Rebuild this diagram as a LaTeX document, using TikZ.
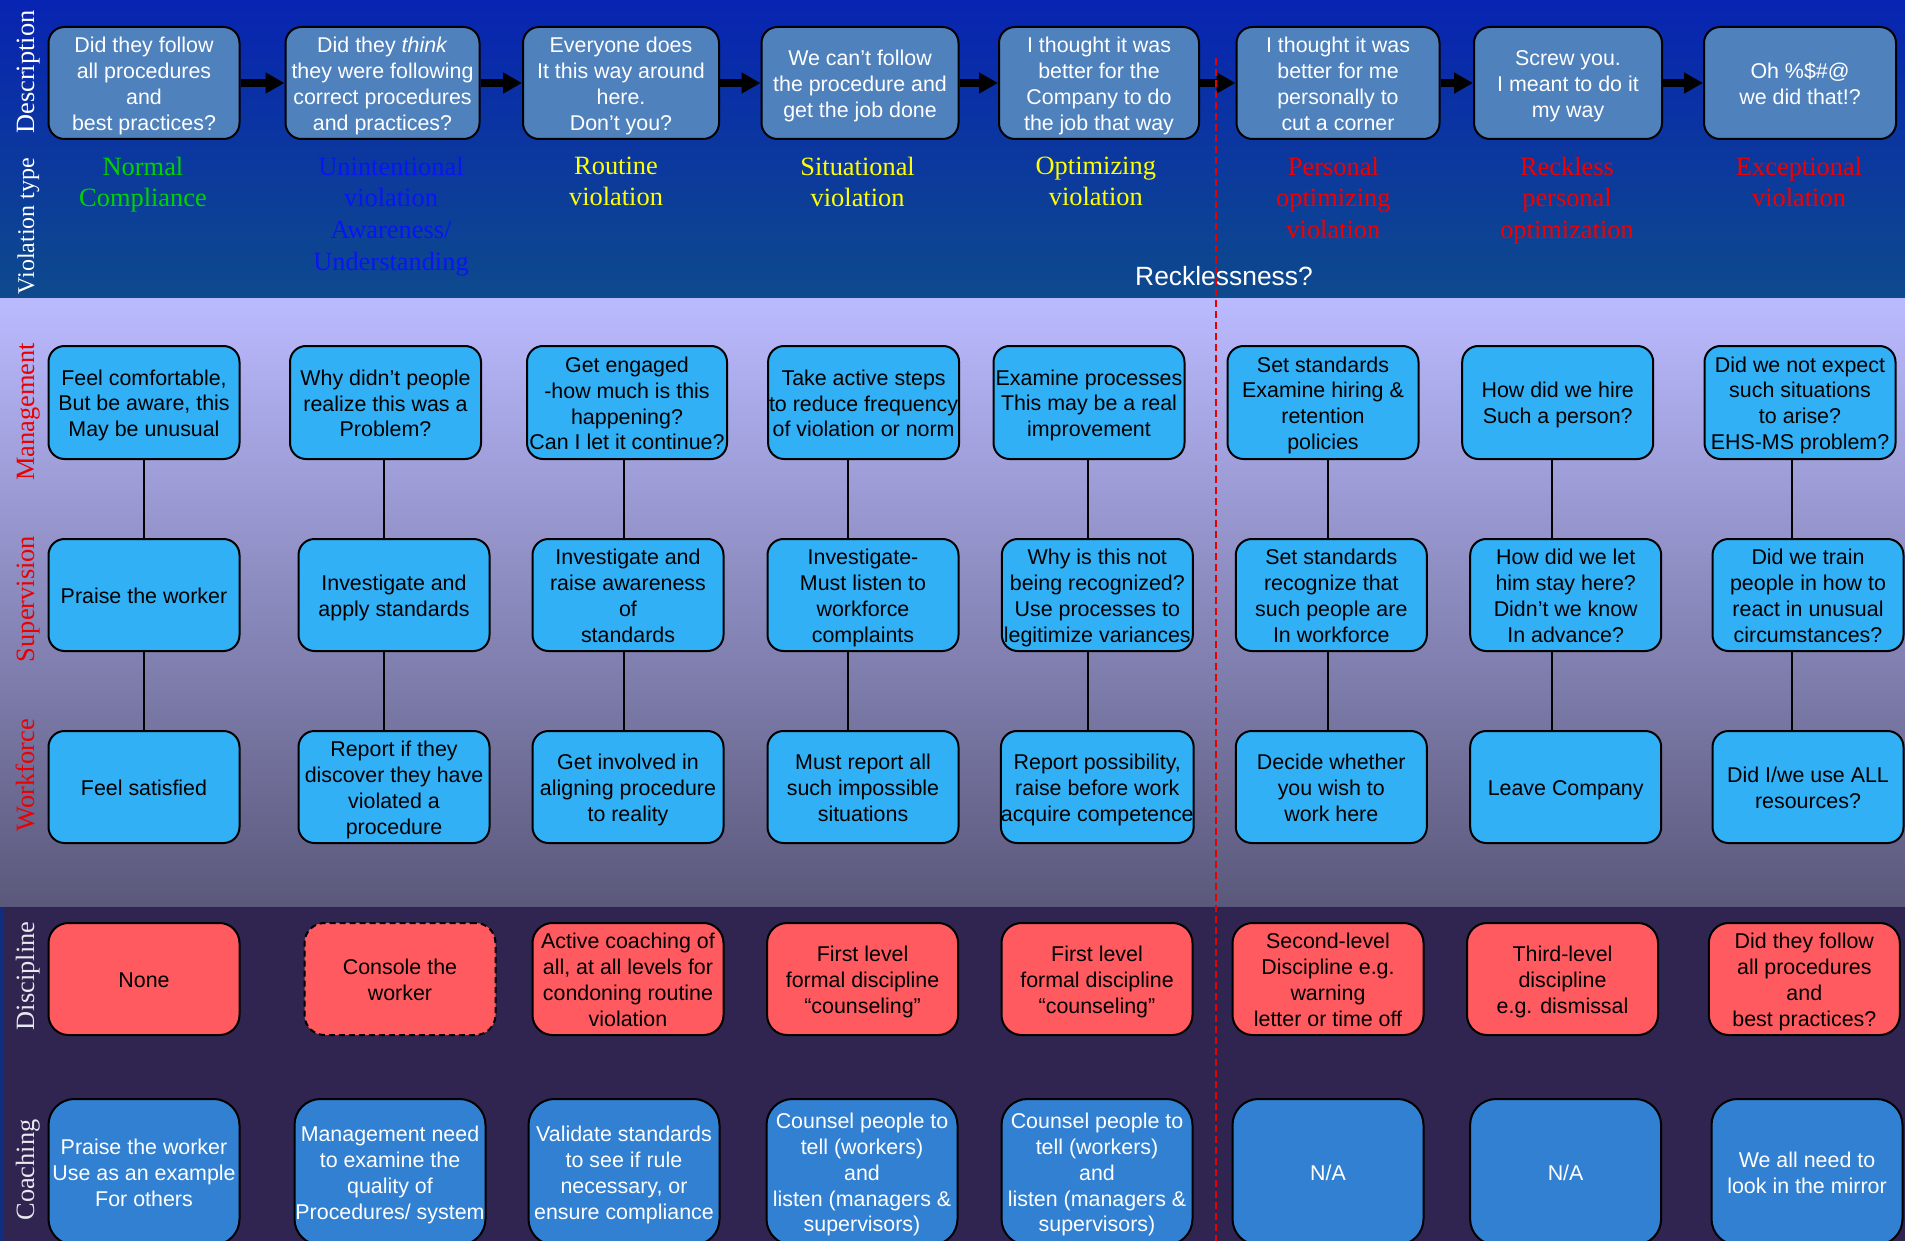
\documentclass[tikz,border=0pt]{standalone}
\usepackage{fontspec}
\setmainfont{Liberation Sans}
\newfontfamily\tnr{Liberation Serif}
\usetikzlibrary{arrows.meta}
\newcommand{\Tup}{\rule{0pt}{10.6pt}}
\definecolor{topA}{RGB}{8,36,178}
\definecolor{topB}{RGB}{14,74,140}
\definecolor{midA}{RGB}{186,186,255}
\definecolor{midM}{RGB}{150,148,205}
\definecolor{midB}{RGB}{90,88,122}
\definecolor{lowbg}{RGB}{47,37,80}
\definecolor{edgeblue}{RGB}{16,46,128}
\definecolor{topfill}{RGB}{79,129,189}
\definecolor{midfill}{RGB}{50,176,246}
\definecolor{discfill}{RGB}{255,90,95}
\definecolor{coachfill}{RGB}{49,128,210}
\definecolor{vgreen}{RGB}{0,210,0}
\definecolor{vblue}{RGB}{10,20,245}
\definecolor{vyellow}{RGB}{255,255,0}
\definecolor{vred}{RGB}{240,0,0}
\definecolor{sidered}{RGB}{235,0,0}
\definecolor{sidewhite}{RGB}{232,232,238}
\definecolor{dashred}{RGB}{230,0,0}
\begin{document}
\begin{tikzpicture}[x=0.5pt,y=-0.5pt,
  box/.style={draw=black,line width=1pt,inner sep=0pt,align=center,
    font=\fontsize{10.7}{12.9}\selectfont,minimum height=56pt,minimum width=95.5pt,
    execute at end node={\rule[-2pt]{0pt}{2pt}}},
  topbox/.style={box,fill=topfill,text=white,rounded corners=8pt},
  midbox/.style={box,fill=midfill,text=black,rounded corners=8pt},
  discbox/.style={box,fill=discfill,text=black,rounded corners=10pt},
  coachbox/.style={box,fill=coachfill,text=white,rounded corners=13pt,minimum height=73pt},
  vlabel/.style={font=\tnr\fontsize{13.2}{15.8}\selectfont,align=center,anchor=north,inner sep=0pt},
  side/.style={font=\tnr\fontsize{13.2}{16}\selectfont,rotate=90,anchor=base,inner sep=0pt},
  flow/.style={line width=4pt,-{Triangle[length=9.5pt,width=10pt]}},
  link/.style={line width=0.9pt,draw=black},
  reckline/.style={draw=dashred,line width=1.3pt,dash pattern=on 3.5pt off 2pt}
]
\useasboundingbox (0,0) rectangle (1905,1241);
% backgrounds
\shade[top color=topA,bottom color=topB] (0,0) rectangle (1905,298);
\shade[top color=midA,middle color=midM,bottom color=midB] (0,298) rectangle (1905,907);
\fill[lowbg] (0,907) rectangle (1905,1241);
\fill[edgeblue] (0,907) rectangle (3,1241);

% side labels
\node[side,text=white] (lDesc) at (34,72) {Description};
\node[side,text=white,font=\tnr\fontsize{12}{14}\selectfont] (lViol) at (34,226) {Violation type};
\node[side,text=sidered] (lMan) at (34,412) {Management};
\node[side,text=sidered] (lSup) at (34,599) {Supervision};
\node[side,text=sidered] (lWork) at (34,775) {Workforce};
\node[side,text=sidewhite] (lDisc) at (34,976) {Discipline};
\node[side,text=sidewhite] (lCoach) at (34,1170) {Coaching};

% description row
\node[topbox,minimum width=95.5pt] (t1) at (144,83) {\Tup Did they follow\\all procedures\\and\\best practices?};
\node[topbox,minimum width=97pt] (t2) at (382.5,83) {\Tup Did they \textit{think}\\they were following\\correct procedures\\and practices?};
\node[topbox,minimum width=98pt] (t3) at (621,83) {\Tup Everyone does\\It this way around\\here.\\Don’t you?};
\node[topbox,minimum width=98.5pt] (t4) at (860,83) {\Tup We can’t follow\\the procedure and\\get the job done};
\node[topbox,minimum width=100pt] (t5) at (1099,83) {\Tup I thought it was\\better for the\\Company to do\\the job that way};
\node[topbox,minimum width=101.5pt] (t6) at (1338,83) {\Tup I thought it was\\better for me\\personally to\\cut a corner};
\node[topbox,minimum width=94pt] (t7) at (1568,83) {\Tup Screw you.\\I meant to do it\\my way};
\node[topbox,minimum width=96pt] (t8) at (1800,83) {\Tup Oh \%\$\#@\\we did that!?};
\foreach \a/\b in {t1/t2,t2/t3,t3/t4,t4/t5,t5/t6,t6/t7,t7/t8}
  \draw[flow] (\a.east) -- (\b.west);

% violation type labels
\node[vlabel,text=vgreen] (v1) at (143,156.5) {Normal\\Compliance};
\node[vlabel,text=vblue] (v2) at (391,156.5) {Unintentional\\violation\\Awareness/\\Understanding};
\node[vlabel,text=vyellow] (v3) at (616,156.5) {Routine\\violation};
\node[vlabel,text=vyellow] (v4) at (857.6,156.5) {Situational\\violation};
\node[vlabel,text=vyellow] (v5) at (1095.8,156.5) {Optimizing\\violation};
\node[vlabel,text=vred] (v6) at (1333.4,156.5) {Personal\\optimizing\\violation};
\node[vlabel,text=vred] (v7) at (1567,156.5) {Reckless\\personal\\optimization};
\node[vlabel,text=vred] (v8) at (1799,156.5) {Exceptional\\violation};
\node[font=\fontsize{13.2}{16}\selectfont,text=white,inner sep=0pt] (reck) at (1224,275.7) {Recklessness?};

% management row
\node[midbox,minimum height=56.5pt] (m1) at (144,402.5) {\Tup Feel comfortable,\\But be aware, this\\May be unusual};
\node[midbox,minimum height=56.5pt] (m2) at (385.5,402.5) {\Tup Why didn’t people\\realize this was a\\Problem?};
\node[midbox,minimum height=56.5pt,minimum width=100pt] (m3) at (627,402.5) {\Tup Get engaged\\-how much is this\\happening?\\Can I let it continue?};
\node[midbox,minimum height=56.5pt] (m4) at (863.6,402.5) {\Tup Take active steps\\to reduce frequency\\of violation or norm};
\node[midbox,minimum height=56.5pt] (m5) at (1089,402.5) {\Tup Examine processes\\This may be a real\\improvement};
\node[midbox,minimum height=56.5pt] (m6) at (1323,402.5) {\Tup Set standards\\Examine hiring \&\\retention\\policies};
\node[midbox,minimum height=56.5pt] (m7) at (1557.7,402.5) {\Tup How did we hire\\Such a person?};
\node[midbox,minimum height=56.5pt] (m8) at (1800,402.5) {\Tup Did we not expect\\such situations\\to arise?\\EHS-MS problem?};

% supervision row
\node[midbox] (s1) at (144,595) {\Tup Praise the worker};
\node[midbox] (s2) at (394,595) {\Tup Investigate and\\apply standards};
\node[midbox] (s3) at (628,595) {\Tup Investigate and\\raise awareness\\of\\standards};
\node[midbox] (s4) at (863,595) {\Tup Investigate-\\Must listen to\\workforce\\complaints};
\node[midbox] (s5) at (1097.3,595) {\Tup Why is this not\\being recognized?\\Use processes to\\legitimize variances};
\node[midbox] (s6) at (1331.3,595) {\Tup Set standards\\recognize that\\such people are\\In workforce};
\node[midbox] (s7) at (1565.7,595) {\Tup How did we let\\him stay here?\\Didn’t we know\\In advance?};
\node[midbox] (s8) at (1808,595) {\Tup Did we train\\people in how to\\react in unusual\\circumstances?};

% workforce row
\node[midbox] (w1) at (144,787) {\Tup Feel satisfied};
\node[midbox] (w2) at (394,787) {\Tup Report if they\\discover they have\\violated a\\procedure};
\node[midbox] (w3) at (628,787) {\Tup Get involved in\\aligning procedure\\to reality};
\node[midbox] (w4) at (863,787) {\Tup Must report all\\such impossible\\situations};
\node[midbox] (w5) at (1097.3,787) {\Tup Report possibility,\\raise before work\\acquire competence};
\node[midbox] (w6) at (1331.3,787) {\Tup Decide whether\\you wish to\\work here};
\node[midbox] (w7) at (1565.7,787) {\Tup Leave Company};
\node[midbox] (w8) at (1808,787) {\Tup Did I/we use ALL\\resources?};

% connectors
\foreach \i/\xx in {1/143.75,2/384,3/623.7,4/848,5/1088,6/1327.7,7/1552,8/1792}{
  \coordinate (x\i) at (\xx,0);
  \draw[link] (m\i.south -| x\i) -- (s\i.north -| x\i);
  \draw[link] (s\i.south -| x\i) -- (w\i.north -| x\i);
}

% discipline row
\node[discbox] (d1) at (144,979) {\Tup None};
\node[discbox,dash pattern=on 3pt off 2pt] (d2) at (400,979) {\Tup Console the\\worker};
\node[discbox] (d3) at (628,979) {\Tup Active coaching of\\all, at all levels for\\condoning routine\\violation};
\node[discbox] (d4) at (862.6,979) {\Tup First level\\formal discipline\\“counseling”};
\node[discbox] (d5) at (1097,979) {\Tup First level\\formal discipline\\“counseling”};
\node[discbox] (d6) at (1328,979) {\Tup Second-level\\Discipline e.g.\\warning\\letter or time off};
\node[discbox] (d7) at (1562.5,979) {\Tup Third-level\\discipline\\e.g. dismissal};
\node[discbox] (d8) at (1804.3,979) {\Tup Did they follow\\all procedures\\and\\best practices?};

% coaching row
\node[coachbox] (c1) at (144,1172) {\Tup Praise the worker\\Use as an example\\For others};
\node[coachbox] (c2) at (390,1172) {\Tup Management need\\to examine the\\quality of\\Procedures/ system};
\node[coachbox] (c3) at (624,1172) {\Tup Validate standards\\to see if rule\\necessary, or\\ensure compliance};
\node[coachbox] (c4) at (862,1172) {\Tup Counsel people to\\tell (workers)\\and\\listen (managers \&\\supervisors)};
\node[coachbox] (c5) at (1097,1172) {\Tup Counsel people to\\tell (workers)\\and\\listen (managers \&\\supervisors)};
\node[coachbox] (c6) at (1328,1172) {\Tup N/A};
\node[coachbox] (c7) at (1565.6,1172) {\Tup N/A};
\node[coachbox] (c8) at (1807,1172) {\Tup We all need to\\look in the mirror};

% recklessness boundary
\coordinate (rtop) at (1216,58);
\coordinate (rbot) at (1216,1241);
\draw[reckline] (rtop) -- (rbot);
\end{tikzpicture}
\end{document}
